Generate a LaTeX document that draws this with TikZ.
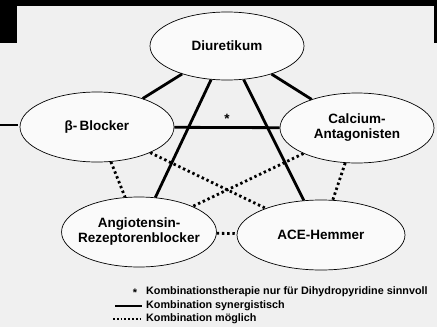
\documentclass[tikz,border=0pt]{standalone}
\usepackage{fontspec}
\setmainfont{Liberation Sans}
\usetikzlibrary{shapes.geometric}
\begin{document}
\begin{tikzpicture}[x=1pt, y=-1pt, font=\bfseries\fontsize{13.5}{15}\selectfont,
    drug/.style={ellipse, draw=black, line width=0.7pt, fill=gray!4, inner sep=0pt, align=center,
        minimum width=154pt, minimum height=68pt},
    syn/.style={line width=2.8pt},
    poss/.style={line width=2.8pt, dash pattern=on 2.4pt off 2.8pt},
    legend/.style={anchor=west, inner sep=0pt, font=\bfseries\fontsize{10.8}{12}\selectfont}]
    \useasboundingbox (0,0) rectangle (437,327);
    % scan background and page border
    \fill[gray!12] (0,0) rectangle (437,327);
    \fill[black] (0,0) rectangle (437,6);
    \fill[black] (0,0) rectangle (17,43);
    \fill[black] (434,0) rectangle (437,43);
    \draw[line width=1.4pt] (0,125) -- (18,125);
    % drugs
    \node[drug] (diu) at (227,46) {Diuretikum};
    \node[drug, minimum height=70pt] (bb) at (97,127) {β-\,Blocker};
    \node[drug, minimum height=70pt] (ca) at (357,128) {Calcium-\\Antagonisten};
    \node[drug, minimum height=70pt, inner xsep=-6pt] (at) at (139,232) {Angiotensin-\\Rezeptorenblocker};
    \node[drug, minimum width=168pt, minimum height=70pt] (ace) at (321,235) {ACE-Hemmer};
    % combinations
    \foreach \a/\b in {diu/bb, diu/ca, diu/at, diu/ace}
        \draw[syn] (\a) -- (\b);
    \draw[syn] (bb) -- node[above=3pt, inner sep=0pt] {*} (ca);
    \foreach \a/\b in {bb/at, ca/ace, bb/ace, ca/at, at/ace}
        \draw[poss] (\a) -- (\b);
    % legend
    \node[inner sep=0pt, font=\bfseries\fontsize{11}{12}\selectfont] (n1) at (135,293) {*};
    \node[legend] (t1) at (146,292) {Kombinationstherapie nur für Dihydropyridine sinnvoll};
    \coordinate (s1a) at (115,306); \coordinate (s1b) at (142,306);
    \draw[line width=2pt] (s1a) -- (s1b);
    \node[legend] (t2) at (146,306) {Kombination synergistisch};
    \coordinate (s2a) at (113,319); \coordinate (s2b) at (141,319);
    \draw[line width=2pt, dash pattern=on 1.8pt off 2pt] (s2a) -- (s2b);
    \node[legend] (t3) at (146,319) {Kombination möglich};
\end{tikzpicture}
\end{document}
